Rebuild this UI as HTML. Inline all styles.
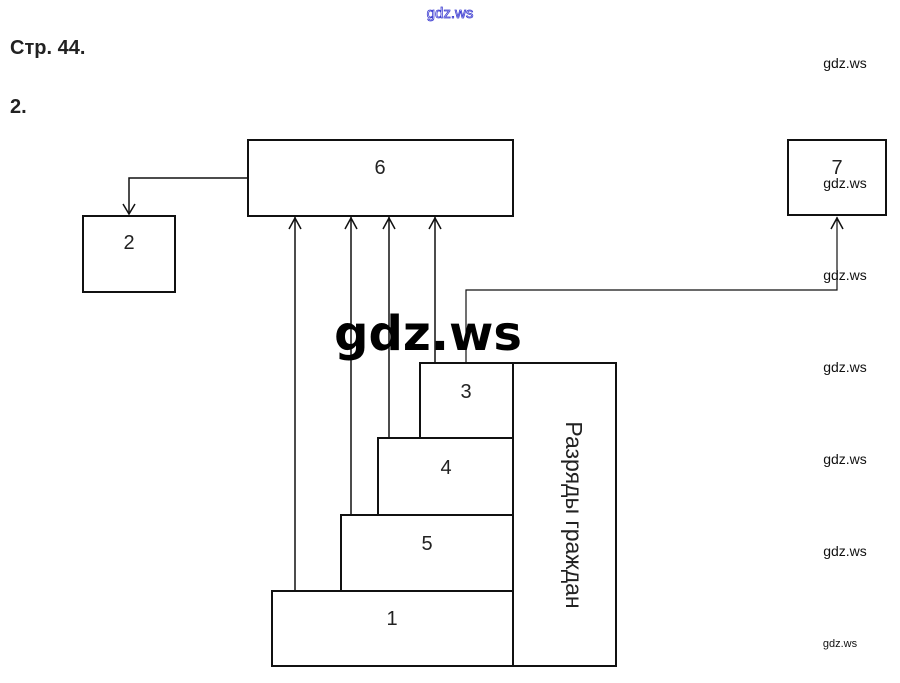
<!DOCTYPE html>
<html><head><meta charset="utf-8"><style>
html,body{margin:0;padding:0;background:#fff;width:900px;height:683px;overflow:hidden}
svg{display:block}
</style></head><body>
<svg width="900" height="683" xmlns="http://www.w3.org/2000/svg" font-family="Liberation Sans, sans-serif">
<text x="450" y="18" font-size="15" fill="#fff" stroke="#3a3ad0" stroke-width="0.8" text-anchor="middle">gdz.ws</text>
<text x="10" y="54" font-size="20" font-weight="bold" fill="#222">Стр. 44.</text>
<text x="10" y="113" font-size="20" font-weight="bold" fill="#222">2.</text>
<g fill="none" stroke="#111" stroke-width="2">
<rect x="248" y="140" width="265" height="76"/>
<rect x="83" y="216" width="92" height="76"/>
<rect x="788" y="140" width="98" height="75"/>
<rect x="420" y="363" width="93" height="75"/>
<rect x="378" y="438" width="135" height="77"/>
<rect x="341" y="515" width="172" height="76"/>
<rect x="272" y="591" width="241" height="75"/>
<rect x="513" y="363" width="103" height="303"/>
</g>
<g fill="none" stroke="#111" stroke-width="1.5">
<polyline points="248,178 129,178 129,214"/>
<polyline points="123,204 129,214 135,204"/>
<line x1="295" y1="217" x2="295" y2="591"/>
<line x1="351" y1="217" x2="351" y2="515"/>
<line x1="389" y1="217" x2="389" y2="438"/>
<line x1="435" y1="217" x2="435" y2="363"/>
<polyline points="289,229 295,218 301,229"/>
<polyline points="345,229 351,218 357,229"/>
<polyline points="383,229 389,218 395,229"/>
<polyline points="429,229 435,218 441,229"/>
<polyline points="466,363 466,290 837,290 837,217" stroke-width="1.2"/>
<polyline points="831,229 837,218 843,229"/>
</g>
<g font-size="20" fill="#222" text-anchor="middle">
<text x="380" y="174">6</text>
<text x="129" y="249">2</text>
<text x="837" y="174">7</text>
<text x="466" y="398">3</text>
<text x="446" y="474">4</text>
<text x="427" y="550">5</text>
<text x="392" y="625">1</text>
</g>
<text transform="translate(566,515) rotate(90)" font-size="23" fill="#222" text-anchor="middle">Разряды граждан</text>
<text x="428" y="350" font-family="DejaVu Sans, sans-serif" font-size="48" font-weight="bold" fill="#000" text-anchor="middle">gdz.ws</text>
<g font-size="14" fill="#111" text-anchor="middle">
<text x="845" y="68">gdz.ws</text>
<text x="845" y="188">gdz.ws</text>
<text x="845" y="280">gdz.ws</text>
<text x="845" y="372">gdz.ws</text>
<text x="845" y="464">gdz.ws</text>
<text x="845" y="556">gdz.ws</text>
<text x="840" y="647" font-size="11">gdz.ws</text>
</g>
</svg>
</body></html>
